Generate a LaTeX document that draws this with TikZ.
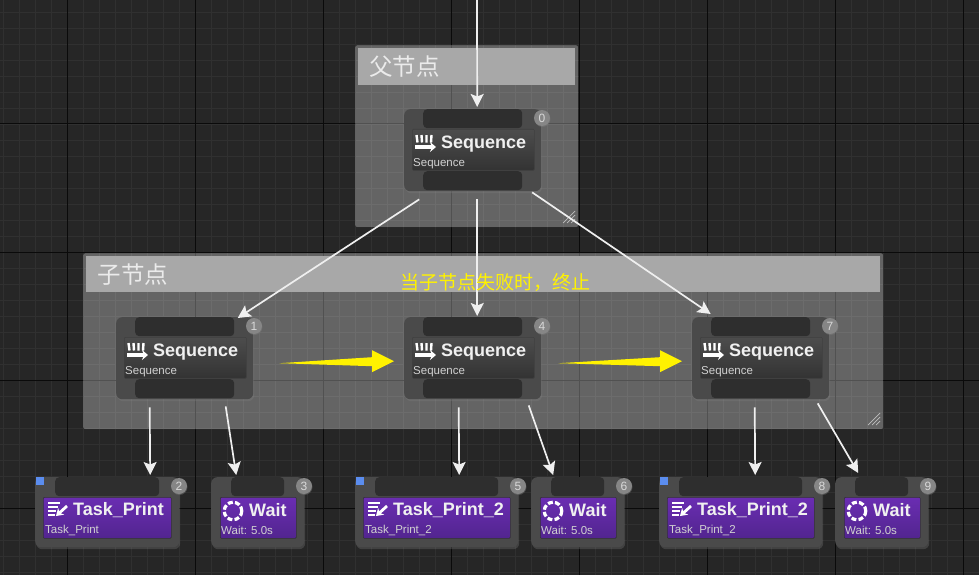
\documentclass[tikz,border=0pt]{standalone}
\usepackage{fontspec}
\setmainfont{Liberation Sans}
\newfontfamily\cjk{Noto Sans CJK SC}
\usetikzlibrary{arrows.meta,calc,shadows}
\definecolor{bggray}{HTML}{262626}
\definecolor{minorgray}{HTML}{303030}
\definecolor{majorgray}{HTML}{0A0A0A}
\definecolor{headgray}{HTML}{A8A8A8}
\definecolor{boxgray}{HTML}{4A4A4A}
\definecolor{pingray}{HTML}{2E2E2E}
\definecolor{wiregray}{HTML}{EFEFEF}
\definecolor{taskhi}{HTML}{6A2DB2}
\definecolor{tasklo}{HTML}{52258F}
\definecolor{flagblue}{HTML}{5B8DEF}
\begin{document}
\begin{tikzpicture}[x=1pt,y=-1pt,>=Stealth]
\tikzstyle{nodebox}=[anchor=north west,inner sep=0,fill=boxgray,rounded corners=6pt,drop shadow={shadow xshift=1pt,shadow yshift=-2pt,opacity=0.3}]
\tikzstyle{pin}=[anchor=north west,inner sep=0,fill=pingray,rounded corners=4pt]
\tikzstyle{seqbar}=[anchor=north west,inner sep=0,draw=black!75,line width=0.6pt,top color=black!70!white,bottom color=black!80!white,rounded corners=1pt]
\tikzstyle{taskbar}=[anchor=north west,inner sep=0,draw=black!80,line width=0.6pt,top color=taskhi,bottom color=tasklo,rounded corners=1pt]
\tikzstyle{titletxt}=[anchor=west,inner sep=0,text=white!94!black,font=\fontsize{18}{20}\selectfont\bfseries]
\tikzstyle{subtxt}=[anchor=west,inner sep=0,text=white!82!black,font=\fontsize{11.5}{13}\selectfont]
\tikzstyle{badge}=[circle,inner sep=0,minimum size=16,fill=gray!95,text=white!85!black,font=\fontsize{12}{14}\selectfont,drop shadow={shadow xshift=0.5pt,shadow yshift=-1pt,opacity=0.4}]
\tikzstyle{commentbox}=[anchor=north west,inner sep=0,fill=white,fill opacity=0.29,rounded corners=2pt,draw=black,draw opacity=0.25]
\tikzstyle{headbar}=[anchor=north west,inner sep=0,fill=headgray,text=white!92!black,font=\cjk\fontsize{23.5}{26}\selectfont,align=left]
\tikzstyle{wire}=[->,draw=wiregray,line width=1.7pt,arrows={-Stealth[length=13pt,width=13pt,inset=2.5pt]}]
\tikzstyle{grip}=[draw=white!75!black,line width=0.7pt]
\useasboundingbox (0,0) rectangle (979,575);
\clip (0,0) rectangle (979,575);
\fill[bggray] (0,0) rectangle (979,575);
% grid
\foreach \x in {3,19,...,979} { \draw[minorgray,line width=0.8pt] (\x,0) -- (\x,575); }
\foreach \y in {12,28,...,575} { \draw[minorgray,line width=0.8pt] (0,\y) -- (979,\y); }
\foreach \x in {67,195,323,451,579,707,835,963} { \draw[majorgray,line width=1pt] (\x,0) -- (\x,575); }
\foreach \y in {124,252,380,508} { \draw[majorgray,line width=1pt] (0,\y) -- (979,\y); }
% comment boxes
\node[commentbox,minimum width=223,minimum height=182] (parentbox) at (355,45) {};
\node[commentbox,minimum width=800,minimum height=176] (childbox) at (83,253) {};
\node[headbar,minimum width=217,minimum height=37,text width=206] (parenthead) at (358,48) {\hspace*{5.5pt}\raisebox{-6pt}{父节点}};
\node[headbar,minimum width=794,minimum height=36,text width=783] (childhead) at (86,256) {\hspace*{6pt}\raisebox{-7pt}{子节点}};
\foreach \x/\y in {575/223,880/425} { \foreach \d in {4,8,12} { \draw[grip] (\x-\d,\y) -- (\x,\y-\d); } }
% sequence nodes
\foreach \i/\x/\y in {0/404/109,1/116/317,4/404/317,7/692/317} {
\node[nodebox,minimum width=137,minimum height=82] (seq\i) at (\x,\y) {};
\node[pin,minimum width=99,minimum height=19] (top\i) at (\x+19,\y) {};
\node[pin,minimum width=99,minimum height=19] (bot\i) at (\x+19,\y+62) {};
\node[seqbar,minimum width=122,minimum height=41] (bar\i) at (\x+8,\y+20) {};
\node[titletxt] (name\i) at (\x+37,\y+35) {Sequence};
\node[subtxt] (sub\i) at (\x+9,\y+55) {Sequence};
\node[badge] (num\i) at (\x+138,\y+9) {\i};
\foreach \d in {0,5,10,15} { \draw[white,line width=2.4pt] (\x+12.5+\d,\y+26) -- (\x+13.5+\d*0.9,\y+33.5); }
\draw[white,line width=3.4pt,-{Stealth[length=6pt,width=10pt]}] (\x+11,\y+38) -- (\x+32,\y+38);
}
% task and wait nodes
\foreach \i/\x/\w/\n in {2/35/144/{Task\_Print},5/355/163/{Task\_Print\_2},8/659/163/{Task\_Print\_2}} {
\node[nodebox,minimum width=\w,minimum height=70] (task\i) at (\x,477) {};
\node[pin,minimum width=\w-40,minimum height=19] (top\i) at (\x+20,477) {};
\node[taskbar,minimum width=\w-16,minimum height=41] (bar\i) at (\x+8,497) {};
\node[titletxt] (name\i) at (\x+38,510) {\n};
\node[subtxt] (sub\i) at (\x+10,530) {\n};
\node[badge] (num\i) at (\x+\w,486) {\i};
\node[anchor=center,inner sep=0,minimum size=8,fill=flagblue] (flag\i) at (\x+5,481) {};
\foreach \d in {0,4,8,12} { \draw[white,line width=2.2pt] (\x+13,503+\d) -- (\x+25-\d*0.45,503+\d); }
\draw[white,line width=2.8pt,-{Stealth[length=7pt,width=9pt]}] (\x+32,506) -- (\x+21,516);
}
\foreach \i/\x in {3/211,6/531,9/835} {
\node[nodebox,minimum width=93,minimum height=70] (wait\i) at (\x,477) {};
\node[pin,minimum width=53,minimum height=19] (top\i) at (\x+20,477) {};
\node[taskbar,minimum width=76,minimum height=41] (bar\i) at (\x+9,497) {};
\node[titletxt] (name\i) at (\x+38,510) {Wait};
\node[subtxt] (sub\i) at (\x+10,530) {Wait: 5.0s};
\node[badge] (num\i) at (\x+93,486) {\i};
\draw[white,line width=3.2pt,dash pattern=on 5pt off 2.2pt] (\x+22,511) circle (8.8);
}
% connectors
\coordinate (root) at (477,0);
\draw[wire] (root) -- ([xshift=4.5pt,yshift=2pt]top0.north);
\foreach \a/\b/\sx/\sy/\ex/\ey in {bot0/top1/-53.5/-9/53/-1,bot0/top4/4.5/-9/4.5/1,bot0/top7/59.5/-2/-50/3,bot1/top2/-35/-9/43/2,bot1/top3/41/-8/-21.5/2,bot4/top5/-14/-9/22.5/2,bot4/top6/56/-7/-24.5/2,bot7/top8/-6/-9/14.5/2,bot7/top9/57/-5/-23.5/4} {
\draw[wire] ([xshift=\sx pt,yshift=\sy pt]\a.south) -- ([xshift=\ex pt,yshift=\ey pt]\b.north);
}
% order arrows
\foreach \a/\b/\t in {seq1/seq4/26,seq4/seq7/17} {
\fill[yellow] ($(\a.east)+(\t,5)$) -- ($(\b.west)+(-32,-1)$) -- ($(\b.west)+(-32,-8)$) -- ($(\b.west)+(-10,3)$) -- ($(\b.west)+(-32,14)$) -- ($(\b.west)+(-32,8)$) -- cycle;
}
\node[inner sep=0,text=yellow,font=\cjk\fontsize{19}{21}\selectfont] (failnote) at (495,283) {当子节点失败时，终止};
\end{tikzpicture}
\end{document}
